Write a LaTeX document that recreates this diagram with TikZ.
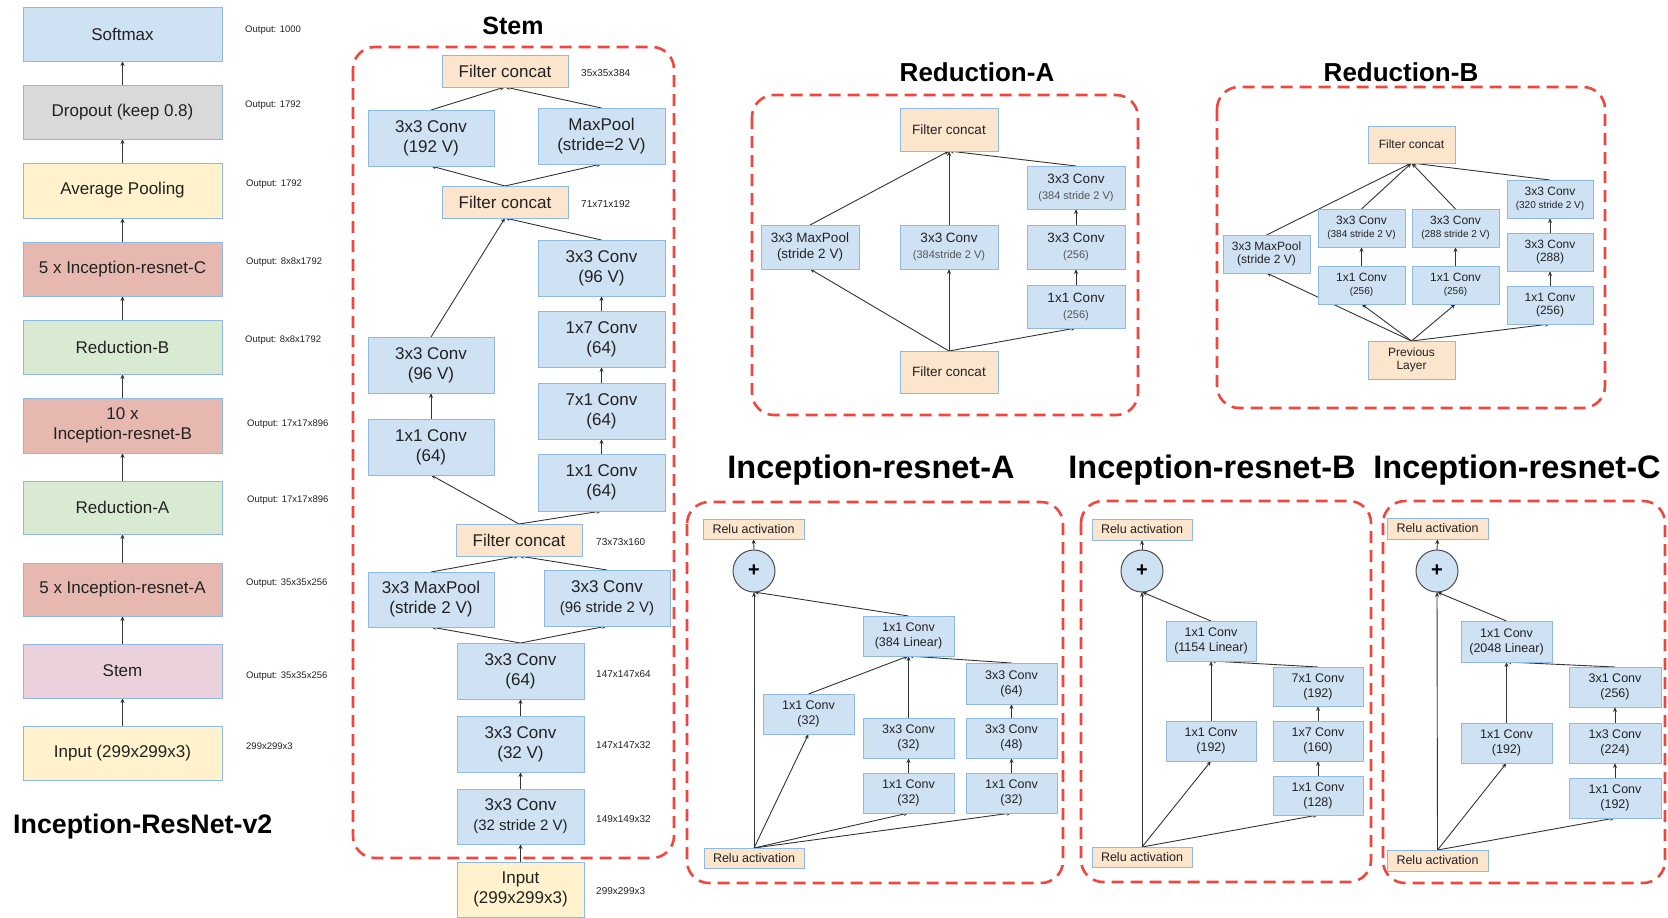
\documentclass[tikz,border=0pt]{standalone}
\usepackage{fontspec}
\setmainfont{Liberation Sans}
\usetikzlibrary{arrows.meta}

\definecolor{cblue}{HTML}{CFE2F3}
\definecolor{cbdr}{HTML}{8EB8E6}
\definecolor{corange}{HTML}{FCE5CD}
\definecolor{cgray}{HTML}{D9D9D9}
\definecolor{cyellow}{HTML}{FFF2CC}
\definecolor{cred}{HTML}{E6B8AF}
\definecolor{cgreen}{HTML}{D9EAD3}
\definecolor{cpink}{HTML}{EAD1DC}
\definecolor{cframe}{HTML}{F2453D}
\definecolor{ctext}{HTML}{222222}
\definecolor{cline}{HTML}{333333}
\definecolor{csub}{HTML}{555555}

\pgfdeclarelayer{bg}
\pgfsetlayers{bg,main}

% box from its corners: style, name, x1, y1, x2, y2, text
\newcommand\blk[7]{\node[#1,minimum width={(#5)-(#3)},minimum height={(#6)-(#4)}] (#2) at ({((#3)+(#5))/2},{((#4)+(#6))/2}) {#7};}
\newcommand\fs[2]{\fontsize{#1}{#2}\selectfont}
\newcommand\lnk[2]{\draw[arr] (#1.north) -- (#2.south);}
\newcommand\subA[1]{{\fs{11}{16}\color{csub}#1}}
\newcommand\subB[1]{{\fs{10}{13}#1}}

\tikzset{
  box/.style={draw=cbdr, line width=1pt, inner sep=0pt, outer sep=0pt, align=center, text=ctext},
  bbox/.style={box, fill=cblue},
  obox/.style={box, fill=corange},
  gybox/.style={box, fill=cgray},
  ybox/.style={box, fill=cyellow},
  rbox/.style={box, fill=cred},
  gnbox/.style={box, fill=cgreen},
  pbox/.style={box, fill=cpink},
  f17/.style={font=\fs{17}{20}},
  fra/.style={font=\fs{13.5}{16}},
  frb/.style={font=\fs{12}{13}},
  fir/.style={font=\fs{12.5}{15}},
  plusnode/.style={circle, draw=black!70, line width=1pt, fill=cblue, minimum size=42pt, inner sep=0pt, outer sep=0pt, font=\bfseries\fs{20}{20}},
  arr/.style={draw=cline, line width=0.9pt, -{Stealth[length=5pt,width=4pt]}},
  dframe/.style={draw=cframe, line width=2.6pt, dash pattern=on 12pt off 7pt, rounded corners=22pt},
  ttl/.style={font=\bfseries\fs{25}{30}, text=black},
  bigttl/.style={font=\bfseries\fs{32.5}{36}, text=black},
  lab/.style={font=\fs{9.5}{11}, anchor=west, text=ctext, inner sep=0pt},
}

\begin{document}
\begin{tikzpicture}[x=1pt,y=-1pt]
\useasboundingbox (0,0) rectangle (1668,918);

% ---------------- overall network ----------------
\blk{bbox,f17}{soft}{23}{7}{222}{61}{Softmax}
\blk{gybox,f17}{drop}{23}{85}{222}{139}{Dropout (keep 0.8)}
\blk{ybox,f17}{avg}{23}{163}{222}{218}{Average Pooling}
\blk{rbox,f17}{nirc}{23}{242}{222}{296}{5 x Inception-resnet-C}
\blk{gnbox,f17}{nredb}{23}{320}{222}{374}{Reduction-B}
\blk{rbox,f17}{nirb}{23}{398}{222}{453}{10 x\\Inception-resnet-B}
\blk{gnbox,f17}{nreda}{23}{481}{222}{534}{Reduction-A}
\blk{rbox,f17}{nira}{23}{563}{222}{616}{5 x Inception-resnet-A}
\blk{pbox,f17}{nstem}{23}{644}{222}{698}{Stem}
\blk{ybox,f17}{ninp}{23}{726}{222}{780}{Input (299x299x3)}

\node[lab] (o1) at (245,30) {Output: 1000};
\node[lab] (o2) at (245,105) {Output: 1792};
\node[lab] (o3) at (246,184) {Output: 1792};
\node[lab] (o4) at (246,262) {Output: 8x8x1792};
\node[lab] (o5) at (245,340) {Output: 8x8x1792};
\node[lab] (o6) at (247,424) {Output: 17x17x896};
\node[lab] (o7) at (247,500) {Output: 17x17x896};
\node[lab] (o8) at (246,583) {Output: 35x35x256};
\node[lab] (o9) at (246,676) {Output: 35x35x256};
\node[lab] (o10) at (246,746) {299x299x3};

\node[ttl, font=\bfseries\fs{26.8}{30}, anchor=west, inner sep=0pt] (tnet) at (13,827) {Inception-ResNet-v2};

% ---------------- Stem ----------------
\node[ttl] (tstem) at (513,26) {Stem};
\draw[dframe] (353,47) rectangle (674,858);

\blk{obox,f17}{sfc1}{442}{55}{568}{87}{Filter concat}
\blk{bbox,f17}{sc192}{368}{110}{494}{166}{3x3 Conv\\(192 V)}
\blk{bbox,f17}{smp}{538}{108}{665}{164}{MaxPool\\(stride=2 V)}
\blk{obox,f17}{sfc2}{442}{186}{568}{218}{Filter concat}
\blk{bbox,f17}{sc96r}{538}{240}{665}{296}{3x3 Conv\\(96 V)}
\blk{bbox,f17}{s17}{538}{311}{665}{367}{1x7 Conv\\(64)}
\blk{bbox,f17}{s71}{538}{383}{665}{439}{7x1 Conv\\(64)}
\blk{bbox,f17}{s11r}{538}{454}{665}{511}{1x1 Conv\\(64)}
\blk{bbox,f17}{sc96l}{368}{337}{494}{393}{3x3 Conv\\(96 V)}
\blk{bbox,f17}{s11l}{368}{419}{494}{475}{1x1 Conv\\(64)}
\blk{obox,f17}{sfc3}{456}{524}{582}{556}{Filter concat}
\blk{bbox,f17}{smp2}{368}{572}{494}{627}{3x3 MaxPool\\(stride 2 V)}
\blk{bbox,f17}{sc96s}{544}{570}{670}{626}{3x3 Conv\\{\fs{15}{20}(96 stride 2 V)}}
\blk{bbox,f17}{sc64}{457}{643}{584}{699}{3x3 Conv\\(64)}
\blk{bbox,f17}{sc32}{457}{716}{584}{772}{3x3 Conv\\(32 V)}
\blk{bbox,f17}{sc32s}{457}{789}{584}{844}{3x3 Conv\\{\fs{15}{20}(32 stride 2 V)}}
\blk{ybox,f17}{sin}{457}{862}{584}{917}{Input\\(299x299x3)}

\node[lab,font=\fs{10}{11}] (l1) at (581,73) {35x35x384};
\node[lab,font=\fs{10}{11}] (l2) at (581,204) {71x71x192};
\node[lab,font=\fs{10}{11}] (l3) at (596,542) {73x73x160};
\node[lab,font=\fs{10}{11}] (l4) at (596,674) {147x147x64};
\node[lab,font=\fs{10}{11}] (l5) at (596,745) {147x147x32};
\node[lab,font=\fs{10}{11}] (l6) at (596,819) {149x149x32};
\node[lab,font=\fs{10}{11}] (l7) at (596,891) {299x299x3};

% ---------------- Reduction-A ----------------
\node[ttl,font=\bfseries\fs{26}{30}] (treda) at (977,72) {Reduction-A};
\draw[dframe] (752,95) rectangle (1138,415);

\blk{obox,fra}{raT}{900}{108}{998}{151}{Filter concat}
\blk{bbox,fra}{raMP}{761}{225}{859}{269}{3x3 MaxPool\\(stride 2 V)}
\blk{bbox,fra}{raC}{900}{225}{998}{269}{3x3 Conv\\\subA{(384stride 2 V)}}
\blk{bbox,fra}{raR3}{1027}{166}{1125}{209}{3x3 Conv\\\subA{(384 stride 2 V)}}
\blk{bbox,fra}{raR2}{1027}{225}{1125}{269}{3x3 Conv\\\subA{(256)}}
\blk{bbox,fra}{raR1}{1027}{285}{1125}{328}{1x1 Conv\\\subA{(256)}}
\blk{obox,fra}{raB}{900}{351}{998}{393}{Filter concat}

% ---------------- Reduction-B ----------------
\node[ttl,font=\bfseries\fs{26}{30}] (tredb) at (1401,72) {Reduction-B};
\draw[dframe] (1217,87) rectangle (1605,408);

\blk{obox,frb}{rbT}{1368}{126}{1455}{163}{Filter concat}
\blk{bbox,frb}{rbMP}{1223}{235}{1310}{273}{3x3 MaxPool\\(stride 2 V)}
\blk{bbox,frb}{rbA2}{1318}{209}{1405}{247}{3x3 Conv\\\subB{(384 stride 2 V)}}
\blk{bbox,frb}{rbB2}{1412}{209}{1499}{247}{3x3 Conv\\\subB{(288 stride 2 V)}}
\blk{bbox,frb}{rbC3}{1507}{180}{1593}{218}{3x3 Conv\\\subB{(320 stride 2 V)}}
\blk{bbox,frb}{rbA1}{1318}{266}{1405}{304}{1x1 Conv\\\subB{(256)}}
\blk{bbox,frb}{rbB1}{1412}{266}{1499}{304}{1x1 Conv\\\subB{(256)}}
\blk{bbox,frb}{rbC2}{1507}{233}{1593}{271}{3x3 Conv\\(288)}
\blk{bbox,frb}{rbC1}{1507}{286}{1593}{324}{1x1 Conv\\(256)}
\blk{obox,frb}{rbP}{1368}{341}{1455}{379}{Previous\\Layer}

% ---------------- Inception-resnet-A ----------------
\node[bigttl] (tira) at (871,470) {Inception-resnet-A};
\draw[dframe] (687,502) rectangle (1063,883);

\blk{obox,fir}{aRt}{703}{519}{804}{539}{Relu activation}
\node[plusnode] (aP) at (754,571) {+};
\blk{bbox,fir}{aL}{863}{616}{954}{656}{1x1 Conv\\(384 Linear)}
\blk{bbox,fir}{a1}{763}{694}{854}{734}{1x1 Conv\\(32)}
\blk{bbox,fir}{a3c}{966}{663}{1057}{704}{3x3 Conv\\(64)}
\blk{bbox,fir}{a2b}{863}{718}{954}{758}{3x3 Conv\\(32)}
\blk{bbox,fir}{a3b}{966}{718}{1057}{758}{3x3 Conv\\(48)}
\blk{bbox,fir}{a2a}{863}{773}{954}{813}{1x1 Conv\\(32)}
\blk{bbox,fir}{a3a}{966}{773}{1057}{813}{1x1 Conv\\(32)}
\blk{obox,fir}{aRb}{704}{848}{804}{868}{Relu activation}

% ---------------- Inception-resnet-B ----------------
\node[bigttl] (tirb) at (1212,470) {Inception-resnet-B};
\draw[dframe] (1081,501) rectangle (1371,882);

\blk{obox,fir}{bRt}{1092}{519}{1192}{540}{Relu activation}
\node[plusnode] (bP) at (1142,571) {+};
\blk{bbox,fir}{bL}{1166}{621}{1256}{661}{1x1 Conv\\(1154 Linear)}
\blk{bbox,fir}{bR3}{1273}{667}{1363}{706}{7x1 Conv\\(192)}
\blk{bbox,fir}{bM}{1166}{721}{1256}{761}{1x1 Conv\\(192)}
\blk{bbox,fir}{bR2}{1273}{721}{1363}{761}{1x7 Conv\\(160)}
\blk{bbox,fir}{bR1}{1273}{776}{1363}{815}{1x1 Conv\\(128)}
\blk{obox,fir}{bRb}{1092}{847}{1192}{867}{Relu activation}

% ---------------- Inception-resnet-C ----------------
\node[bigttl] (tirc) at (1517,470) {Inception-resnet-C};
\draw[dframe] (1383,501) rectangle (1665,883);

\blk{obox,fir}{cRt}{1387}{518}{1488}{539}{Relu activation}
\node[plusnode] (cP) at (1437,571) {+};
\blk{bbox,fir}{cL}{1461}{621}{1552}{662}{1x1 Conv\\(2048 Linear)}
\blk{bbox,fir}{cR3}{1569}{667}{1661}{707}{3x1 Conv\\(256)}
\blk{bbox,fir}{cM}{1461}{723}{1552}{763}{1x1 Conv\\(192)}
\blk{bbox,fir}{cR2}{1569}{723}{1661}{763}{1x3 Conv\\(224)}
\blk{bbox,fir}{cR1}{1569}{778}{1661}{818}{1x1 Conv\\(192)}
\blk{obox,fir}{cRb}{1387}{850}{1488}{871}{Relu activation}

% ---------------- connectors (drawn beneath the boxes) ----------------
\begin{pgfonlayer}{bg}
  % overall network
  \lnk{ninp}{nstem} \lnk{nstem}{nira} \lnk{nira}{nreda} \lnk{nreda}{nirb}
  \lnk{nirb}{nredb} \lnk{nredb}{nirc} \lnk{nirc}{avg} \lnk{avg}{drop} \lnk{drop}{soft}
  % stem
  \lnk{sc192}{sfc1} \lnk{smp}{sfc1}
  \lnk{sfc2}{sc192} \lnk{sfc2}{smp}
  \lnk{sc96l}{sfc2} \lnk{sc96r}{sfc2}
  \lnk{s17}{sc96r} \lnk{s71}{s17} \lnk{s11r}{s71} \lnk{s11l}{sc96l}
  \lnk{sfc3}{s11l} \lnk{sfc3}{s11r}
  \lnk{smp2}{sfc3} \lnk{sc96s}{sfc3}
  \lnk{sc64}{smp2} \lnk{sc64}{sc96s}
  \lnk{sc32}{sc64} \lnk{sc32s}{sc32} \lnk{sin}{sc32s}
  % reduction-A
  \lnk{raB}{raMP} \lnk{raB}{raC} \lnk{raB}{raR1}
  \lnk{raMP}{raT} \lnk{raC}{raT} \lnk{raR3}{raT}
  \lnk{raR1}{raR2} \lnk{raR2}{raR3}
  % reduction-B
  \lnk{rbP}{rbMP} \lnk{rbP}{rbA1} \lnk{rbP}{rbB1} \lnk{rbP}{rbC1}
  \lnk{rbMP}{rbT} \lnk{rbA2}{rbT} \lnk{rbB2}{rbT} \lnk{rbC3}{rbT}
  \lnk{rbA1}{rbA2} \lnk{rbB1}{rbB2} \lnk{rbC1}{rbC2} \lnk{rbC2}{rbC3}
  % inception-resnet-A
  \lnk{aRb}{aP} \lnk{aRb}{a1} \lnk{aRb}{a2a} \lnk{aRb}{a3a}
  \lnk{aP}{aRt} \lnk{aL}{aP}
  \lnk{a1}{aL} \lnk{a2b}{aL} \lnk{a3c}{aL}
  \lnk{a2a}{a2b} \lnk{a3a}{a3b} \lnk{a3b}{a3c}
  % inception-resnet-B
  \lnk{bRb}{bP} \lnk{bRb}{bM} \lnk{bRb}{bR1}
  \lnk{bP}{bRt} \lnk{bL}{bP}
  \lnk{bM}{bL} \lnk{bR3}{bL}
  \lnk{bR1}{bR2} \lnk{bR2}{bR3}
  % inception-resnet-C
  \lnk{cRb}{cP} \lnk{cRb}{cM} \lnk{cRb}{cR1}
  \lnk{cP}{cRt} \lnk{cL}{cP}
  \lnk{cM}{cL} \lnk{cR3}{cL}
  \lnk{cR1}{cR2} \lnk{cR2}{cR3}
\end{pgfonlayer}
\end{tikzpicture}
\end{document}
